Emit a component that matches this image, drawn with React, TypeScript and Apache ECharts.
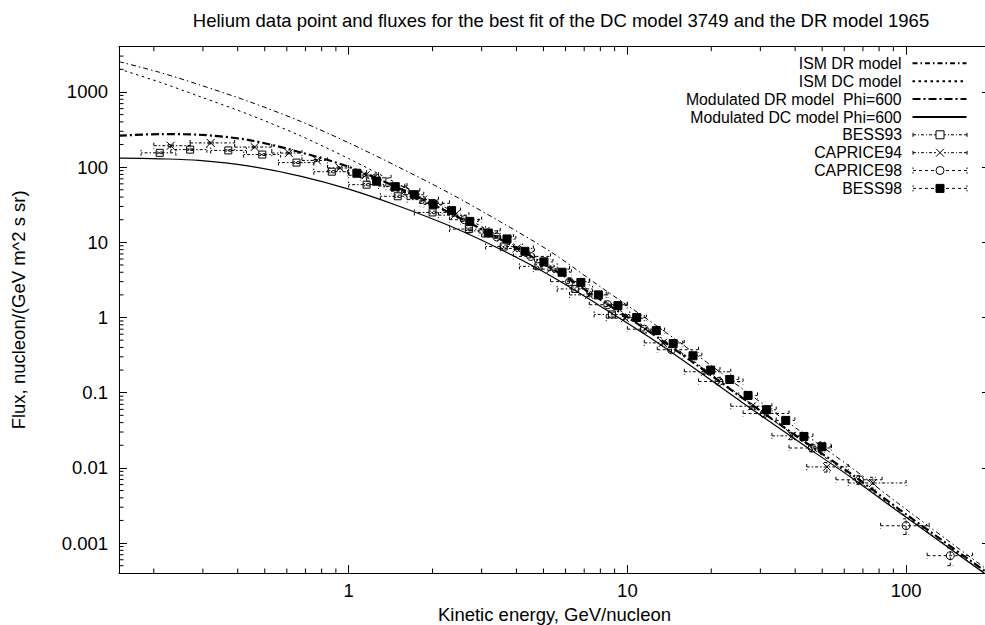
import React, { useEffect, useRef } from "react";
import * as echarts from "echarts";

const FONT = "'Liberation Sans', Arial, Helvetica, sans-serif";
const FS = 18.5;
const LEGEND_FS = 15.8;

const titleText =
  "Helium data point and fluxes for the best fit of the DC model 3749 and the DR model 1965";
const xName = "Kinetic energy, GeV/nucleon";
const yName = "Flux, nucleon/(GeV m^2 s sr)";

// model curves (energy in GeV/nucleon, flux)
const modelE = [0.15, 0.21, 0.29, 0.44, 0.67, 1.0, 1.5, 2.3, 3.5, 5.3, 7.9, 12, 18, 27, 41, 63, 95, 200];
const ismDR = [2530, 1823, 1254, 743, 409, 211, 101.5, 45.1, 18.8, 7.51, 2.65, 0.907, 0.306, 0.0999, 0.0322, 0.01036, 0.00324, 0.000415];
const ismDC = [2023, 1350, 879, 499, 262, 130, 60.3, 27.2, 11.9, 4.89, 1.89, 0.688, 0.236, 0.077, 0.0248, 0.00798, 0.00261, 0.000356];
const modDR = [262, 275, 270, 229, 158, 101, 53.3, 24.8, 11.0, 4.6, 1.78, 0.647, 0.225, 0.0759, 0.0256, 0.00849, 0.00277, 0.000379];
const modDC = [132, 129, 123, 103, 76, 51, 30.7, 16.6, 8.1, 3.6, 1.46, 0.547, 0.193, 0.066, 0.0226, 0.00762, 0.00253, 0.00035];

// BESS93
const b93E = [0.21, 0.27, 0.37, 0.49, 0.65, 0.87, 1.16, 1.5, 2.0, 2.7, 3.6, 4.8, 6.5, 8.8];
const b93F = [155, 171, 167, 147, 115, 87, 58.5, 41, 25, 15, 8.8, 4.8, 2.4, 1.1];
const b93Elo = [0.18, 0.23, 0.32, 0.42, 0.56, 0.75, 1.0, 1.3, 1.72, 2.3, 3.1, 4.1, 5.6, 7.6];
const b93Ehi = [0.24, 0.31, 0.43, 0.57, 0.75, 1.0, 1.34, 1.74, 2.3, 3.1, 4.2, 5.6, 7.5, 10.2];
const b93Err = [4, 4, 4, 4, 3, 3, 2, 1.5, 1, 0.6, 0.4, 0.25, 0.15, 0.08];

// CAPRICE94
const c94E = [0.23, 0.32, 0.46, 0.61, 0.77, 0.93, 1.15, 1.45, 1.85, 2.4, 3.1, 4.0, 5.3, 7.3, 9.8, 13.4, 19, 28, 39, 52, 76];
const c94F = [193, 210, 185, 154, 123, 97.5, 78, 56, 37, 23, 14.2, 8.3, 4.4, 2.0, 0.98, 0.46, 0.19, 0.066, 0.0267, 0.0103, 0.0063];
const c94Elo = [0.2, 0.27, 0.39, 0.53, 0.68, 0.84, 1.0, 1.28, 1.62, 2.1, 2.7, 3.5, 4.6, 6.2, 8.4, 11.5, 16, 23.5, 33, 44, 62];
const c94Ehi = [0.27, 0.39, 0.53, 0.68, 0.84, 1.0, 1.28, 1.62, 2.1, 2.7, 3.5, 4.6, 6.2, 8.4, 11.5, 16, 23.5, 33, 44, 62, 100];
const c94Err = [6, 6, 5, 4, 3.5, 3, 2.5, 2, 1.3, 0.8, 0.5, 0.3, 0.2, 0.1, 0.05, 0.03, 0.015, 0.006, 0.003, 0.0015, 0.0012];

// CAPRICE98
const c98E = [1.25, 1.6, 2.0, 2.6, 3.4, 4.5, 6.2, 8.5, 11.5, 14.4, 21.3, 31, 46, 68, 100, 144];
const c98F = [72, 48, 33, 20, 11.8, 6.5, 3.0, 1.48, 0.7, 0.373, 0.141, 0.053, 0.0184, 0.00695, 0.0017, 0.00068];
const c98Elo = [1.1, 1.42, 1.8, 2.3, 3.0, 3.9, 5.3, 7.3, 10, 12.8, 18, 26, 38, 56, 81, 119];
const c98Ehi = [1.42, 1.8, 2.3, 3.0, 3.9, 5.3, 7.3, 10, 12.8, 18, 26, 38, 54, 82, 121, 173];
const c98Err = [3, 2, 1.5, 0.9, 0.5, 0.3, 0.15, 0.08, 0.04, 0.025, 0.01, 0.005, 0.002, 0.0009, 0.0004, 0.00018];

// BESS98
const b98E = [1.07, 1.26, 1.47, 1.72, 2.01, 2.34, 2.72, 3.17, 3.7, 4.29, 5.02, 5.83, 6.81, 7.87, 9.25, 10.8, 12.7, 14.6, 17.2, 19.9, 23.3, 27.1, 31.6, 37.0, 43.0, 49.9];
const b98F = [83, 65, 55, 43, 32, 26.4, 19.0, 13.3, 11.1, 7.6, 5.5, 4.0, 2.93, 2.0, 1.44, 1.0, 0.67, 0.45, 0.31, 0.2, 0.15, 0.092, 0.0594, 0.0428, 0.0262, 0.0191];
const b98Elo = [0.99, 1.16, 1.36, 1.59, 1.86, 2.17, 2.52, 2.93, 3.42, 3.98, 4.64, 5.41, 6.3, 7.32, 8.53, 9.99, 11.7, 13.6, 15.8, 18.5, 21.5, 25.1, 29.3, 34.2, 39.9, 46.3];
const b98Ehi = [1.16, 1.36, 1.59, 1.86, 2.17, 2.52, 2.93, 3.42, 3.98, 4.64, 5.41, 6.3, 7.32, 8.53, 9.99, 11.7, 13.6, 15.8, 18.5, 21.5, 25.1, 29.3, 34.2, 39.9, 46.3, 53.8];
const b98Err = [2.5, 2, 1.6, 1.3, 1, 0.8, 0.6, 0.4, 0.35, 0.25, 0.2, 0.15, 0.12, 0.09, 0.07, 0.05, 0.04, 0.03, 0.02, 0.015, 0.012, 0.008, 0.006, 0.005, 0.0035, 0.003];

const seriesNames = [
  "ISM DR model",
  "ISM DC model",
  "Modulated DR model  Phi=600",
  "Modulated DC model Phi=600",
  "BESS93",
  "CAPRICE94",
  "CAPRICE98",
  "BESS98",
];

// axis extents and minor tick positions
const xMin = 0.15;
const xMax = 200;
const yMin = 0.0004;
const yMax = 4000;
const minorMult = [2, 3, 4, 5, 6, 7, 8, 9];
const xMinorDecades = [0.1, 1, 10];
const yMinorDecades = [0.0001, 0.001, 0.01, 0.1, 1, 10, 100, 1000];

const legendRowY = [63.3, 81.2, 99.1, 117, 134.8, 152.7, 170.5, 188.4];

function pairs(xs: number[], ys: number[]) {
  return xs.map((x, i) => [x, ys[i]]);
}

function rows(E: number[], F: number[], lo: number[], hi: number[], err: number[]) {
  return E.map((e, i) => [e, F[i], lo[i], hi[i], F[i] - err[i], F[i] + err[i]]);
}

function makeRender(marker: string, dash: number[]) {
  return (params: any, api: any) => {
    const e = api.value(0);
    const f = api.value(1);
    const p = api.coord([e, f]);
    const l = api.coord([api.value(2), f]);
    const r = api.coord([api.value(3), f]);
    const lo = api.coord([e, api.value(4)]);
    const hi = api.coord([e, api.value(5)]);
    const st = { stroke: "#000", lineWidth: 1, lineDash: dash, fill: "none" };
    const cap = 3;
    const children: any[] = [
      { type: "line", shape: { x1: l[0], y1: p[1], x2: r[0], y2: p[1] }, style: st },
      { type: "line", shape: { x1: l[0], y1: p[1] - cap, x2: l[0], y2: p[1] + cap }, style: st },
      { type: "line", shape: { x1: r[0], y1: p[1] - cap, x2: r[0], y2: p[1] + cap }, style: st },
      { type: "line", shape: { x1: p[0], y1: lo[1], x2: p[0], y2: hi[1] }, style: st },
      { type: "line", shape: { x1: p[0] - cap, y1: lo[1], x2: p[0] + cap, y2: lo[1] }, style: st },
      { type: "line", shape: { x1: p[0] - cap, y1: hi[1], x2: p[0] + cap, y2: hi[1] }, style: st },
    ];
    const ms = { stroke: "#000", lineWidth: 1, fill: "none" };
    if (marker === "square") {
      children.push({ type: "rect", shape: { x: p[0] - 3.5, y: p[1] - 3.5, width: 7, height: 7 }, style: ms });
    } else if (marker === "cross") {
      children.push({ type: "line", shape: { x1: p[0] - 4, y1: p[1] - 4, x2: p[0] + 4, y2: p[1] + 4 }, style: ms });
      children.push({ type: "line", shape: { x1: p[0] - 4, y1: p[1] + 4, x2: p[0] + 4, y2: p[1] - 4 }, style: ms });
    } else if (marker === "circle") {
      children.push({ type: "circle", shape: { cx: p[0], cy: p[1], r: 4 }, style: ms });
    } else {
      children.push({ type: "rect", shape: { x: p[0] - 4, y: p[1] - 4, width: 8, height: 8 }, style: { fill: "#000", stroke: "#000", lineWidth: 1 } });
    }
    return { type: "group", children };
  };
}

const barL = "M0 4L3 4M5 4L6 4M8 4L11 4M13 4L14 4M16 4L19 4M21 4L23 4";
const barR = "M31 4L33 4M35 4L36 4M38 4L41 4M43 4L44 4M46 4L49 4M51 4L54 4";
const barLd = "M0 4L3 4M6 4L9 4M12 4L15 4M18 4L21 4";
const barRd = "M33 4L36 4M39 4L42 4M45 4L48 4M51 4L54 4";
const capsSolid = "M0 2L0 6M54 2L54 6";
const capsDot = "M0 1L0 2.5M0 5.5L0 7M54 1L54 2.5M54 5.5L54 7M0 0L0 0.1M54 8L54 7.9";
const iconB93 = "path://" + capsSolid + barL + barR + "M23 0L31 0L31 8L23 8Z";
const iconC94 = "path://" + capsSolid + barL + barR + "M23 0L31 8M31 0L23 8";
const iconC98 = "path://" + capsDot + barLd + barRd + "M31 4A4 4 0 1 1 23 4A4 4 0 1 1 31 4Z";
const iconB98 = "path://" + capsDot + barLd + barRd + "M23 0L31 0L31 8L23 8Z";

export default function App() {
  const ref = useRef<HTMLDivElement>(null);

  useEffect(() => {
    if (!ref.current) return;
    const chart = echarts.init(ref.current, null, { renderer: "svg" });
    const black = "#000";
    const clear = "rgba(0,0,0,0)";
    const labelFmt = (v: number) => String(Number(Number(v).toPrecision(3)));

    const xMinor = xMinorDecades.flatMap((d) => minorMult.map((m) => m * d));
    const yMinor = yMinorDecades
      .flatMap((d) => minorMult.map((m) => m * d))
      .filter((v) => v > yMin * 1.01 && v < yMax * 0.99);

    const lineSeries = (name: string, data: number[], width: number, dash: any) => ({
      name,
      type: "line",
      data: pairs(modelE, data),
      symbol: "none",
      showSymbol: false,
      smooth: 0.3,
      lineStyle: { color: black, width, type: dash },
      itemStyle: { color: black },
      z: 2,
    });

    const dataSeries = (name: string, d: any[], marker: string, dash: number[]) => ({
      name,
      type: "custom",
      data: d,
      renderItem: makeRender(marker, dash),
      itemStyle: { color: black },
      z: 3,
    });

    const hiddenDot = { color: clear, borderColor: clear, borderWidth: 0, opacity: 0 };
    const legendData: any[] = [
      { name: seriesNames[0], itemStyle: hiddenDot },
      { name: seriesNames[1], itemStyle: hiddenDot },
      { name: seriesNames[2], itemStyle: hiddenDot },
      { name: seriesNames[3], itemStyle: hiddenDot },
      { name: seriesNames[4], icon: iconB93, itemStyle: { color: clear, borderColor: black, borderWidth: 1 } },
      { name: seriesNames[5], icon: iconC94, itemStyle: { color: clear, borderColor: black, borderWidth: 1 } },
      { name: seriesNames[6], icon: iconC98, itemStyle: { color: clear, borderColor: black, borderWidth: 1 } },
      { name: seriesNames[7], icon: iconB98, itemStyle: { color: black, borderColor: black, borderWidth: 1 } },
    ];

    const axisCommon = {
      type: "log",
      logBase: 10,
      axisLine: { show: true, lineStyle: { color: black, width: 1 } },
      axisTick: { show: true, inside: true, length: 8, lineStyle: { color: black, width: 1 } },
      splitLine: { show: false },
      minorTick: { show: false },
    };

    const option: any = {
      animation: false,
      backgroundColor: "#fff",
      title: {
        text: titleText,
        left: 561,
        top: 12,
        textAlign: "center",
        padding: 0,
        textStyle: { fontFamily: FONT, fontSize: FS, fontWeight: "normal", color: black, lineHeight: 17 },
      },
      legend: legendData.map((item, i) => ({
        data: [item],
        orient: "vertical",
        align: "right",
        right: 17.5,
        top: legendRowY[i] - 8,
        padding: 0,
        itemWidth: 54,
        itemHeight: i < 4 ? 14 : 8,
        selectedMode: false,
        textStyle: { fontFamily: FONT, fontSize: LEGEND_FS, color: black, lineHeight: 16, padding: [0, 6, 0, 0] },
      })),
      grid: { left: 119, top: 46.7, right: -5, bottom: 52, containLabel: false, outerBoundsMode: "none" },
      xAxis: [
        {
          ...axisCommon,
          min: xMin,
          max: xMax,
          position: "bottom",
          name: xName,
          nameLocation: "middle",
          nameGap: 30,
          nameTextStyle: { fontFamily: FONT, fontSize: FS, color: black },
          axisLabel: {
            show: true,
            margin: 8,
            showMinLabel: false,
            showMaxLabel: false,
            fontFamily: FONT,
            fontSize: FS,
            color: black,
            formatter: labelFmt,
          },
        },
        {
          ...axisCommon,
          min: xMin,
          max: xMax,
          position: "top",
          axisLabel: { show: false },
        },
      ],
      yAxis: [
        {
          ...axisCommon,
          min: yMin,
          max: yMax,
          position: "left",
          name: yName,
          nameLocation: "middle",
          nameGap: 91,
          nameTextStyle: { fontFamily: FONT, fontSize: FS, color: black },
          axisLabel: {
            show: true,
            margin: 11,
            showMinLabel: false,
            showMaxLabel: false,
            fontFamily: FONT,
            fontSize: FS,
            color: black,
            formatter: labelFmt,
          },
        },
        {
          ...axisCommon,
          min: yMin,
          max: yMax,
          position: "right",
          axisLabel: { show: false },
        },
      ],
      series: [
        lineSeries(seriesNames[0], ismDR, 1, [5, 3, 1.5, 3]),
        lineSeries(seriesNames[1], ismDC, 1, [2.5, 3.5]),
        lineSeries(seriesNames[2], modDR, 2.2, [8, 3, 2, 3]),
        lineSeries(seriesNames[3], modDC, 1.2, "solid"),
        dataSeries(seriesNames[4], rows(b93E, b93F, b93Elo, b93Ehi, b93Err), "square", [1.5, 2, 3, 2]),
        dataSeries(seriesNames[5], rows(c94E, c94F, c94Elo, c94Ehi, c94Err), "cross", [3, 2, 1.5, 2]),
        dataSeries(seriesNames[6], rows(c98E, c98F, c98Elo, c98Ehi, c98Err), "circle", [3, 2.5]),
        dataSeries(seriesNames[7], rows(b98E, b98F, b98Elo, b98Ehi, b98Err), "filled", [2.5, 3]),
        {
          type: "custom",
          silent: true,
          clip: false,
          z: 4,
          data: xMinor.map((v) => [v, 1]),
          renderItem: (params: any, api: any) => {
            const cs = params.coordSys;
            const x = api.coord([api.value(0), 1])[0];
            const b = cs.y + cs.height;
            const st = { stroke: black, lineWidth: 1 };
            return {
              type: "group",
              children: [
                { type: "line", shape: { x1: x, y1: b, x2: x, y2: b - 4.5 }, style: st },
                { type: "line", shape: { x1: x, y1: cs.y, x2: x, y2: cs.y + 4.5 }, style: st },
              ],
            };
          },
        },
        {
          type: "custom",
          silent: true,
          clip: false,
          z: 4,
          data: yMinor.map((v) => [1, v]),
          renderItem: (params: any, api: any) => {
            const cs = params.coordSys;
            const y = api.coord([1, api.value(1)])[1];
            const r = cs.x + cs.width;
            const st = { stroke: black, lineWidth: 1 };
            return {
              type: "group",
              children: [
                { type: "line", shape: { x1: cs.x, y1: y, x2: cs.x + 4.5, y2: y }, style: st },
                { type: "line", shape: { x1: r, y1: y, x2: r - 4.5, y2: y }, style: st },
              ],
            };
          },
        },
      ],
    };

    chart.setOption(option);
    return () => {
      chart.dispose();
    };
  }, []);

  return (
    <div
      ref={ref}
      style={{ position: "absolute", left: 0, top: 0, width: 985, height: 625, background: "#fff" }}
    />
  );
}
